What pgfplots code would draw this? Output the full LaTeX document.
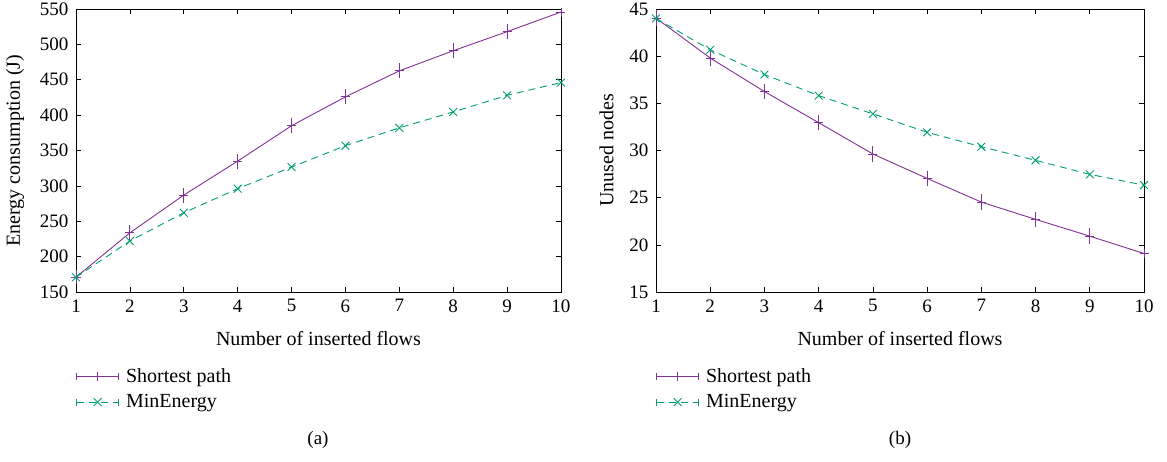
\documentclass[border=0pt]{standalone}
\usepackage{fontspec}
\setmainfont{Liberation Serif}
\usepackage{pgfplots}
\pgfplotsset{compat=1.18}
\definecolor{cpurple}{RGB}{128,50,150}
\definecolor{cgreen}{RGB}{0,158,115}
\pgfplotsset{
  gp/.style={
    scale only axis, width=485pt, height=283pt,
    xmin=1, xmax=10, xtick={1,...,10},
    tick align=inside, major tick length=5pt,
    axis line style={line width=0.9pt},
    tick style={black, line width=0.6pt},
    /pgf/number format/assume math mode=true,
    tick label style={font=\fontsize{19}{22}\selectfont},
    xticklabel style={yshift=-4pt},
    yticklabel style={xshift=-4pt},
    label style={font=\fontsize{20}{24}\selectfont},
    xlabel={Number of inserted flows},
    xlabel style={yshift=-12pt},
    ylabel style={yshift=9pt},
    legend style={draw=none, fill=none, at={(0,-0.255)}, anchor=north west,
      font=\fontsize{20}{24}\selectfont, row sep=7pt, inner xsep=0pt,
      /tikz/every odd column/.append style={column sep=5pt}},
    legend cell align=left,
    legend image code/.code={%
      \draw[mark repeat=2,mark phase=2,##1] plot coordinates {(0pt,0pt) (21pt,0pt) (42pt,0pt)};
      \draw[##1,solid,mark=none] (0pt,-3.5pt) -- (0pt,3.5pt) (42pt,-3.5pt) -- (42pt,3.5pt);
    },
    every axis plot/.append style={line width=0.9pt},
  },
  sp/.style={cpurple, solid, mark=+, mark size=4.5pt,
    error bars/.cd, y dir=both, y explicit, error bar style={solid, line width=0.8pt},
    error mark options={mark size=4pt, line width=0.8pt}},
  me/.style={cgreen, dashed, dash pattern=on 7pt off 5pt, mark=x, mark size=5.5pt, mark options={solid}},
}
\begin{document}
\begin{tikzpicture}
\path[use as bounding box] (0,0) rectangle (1167pt,461pt);
\begin{axis}[gp, at={(76pt,169pt)}, anchor=south west,
  ymin=150, ymax=550, ytick={150,200,...,550},
  ylabel={Energy consumption (J)}]
\addplot+[sp] coordinates {(1,171) +- (0,4) (2,233.6) +- (0,5) (3,287) +- (0,5) (4,335) +- (0,5) (5,385) +- (0,5) (6,425.8) +- (0,5) (7,462.6) +- (0,5) (8,491) +- (0,5) (9,518) +- (0,5) (10,545.7) +- (0,5)};
\addlegendentry{Shortest path}
\addplot+[me] coordinates {(1,171) (2,222) (3,262) (4,296) (5,326.6) (6,356.8) (7,382) (8,404.5) (9,428) (10,446)};
\addlegendentry{MinEnergy}
\end{axis}
\begin{axis}[gp, at={(656pt,169pt)}, anchor=south west, width=488pt,
  ymin=15, ymax=45, ytick={15,20,...,45},
  ylabel={Unused nodes}]
\addplot+[sp] coordinates {(1,44.04) +- (0,0.4) (2,39.8) +- (0,0.4) (3,36.25) +- (0,0.4) (4,32.95) +- (0,0.4) (5,29.63) +- (0,0.4) (6,27.04) +- (0,0.4) (7,24.53) +- (0,0.4) (8,22.7) +- (0,0.4) (9,20.92) +- (0,0.4) (10,19.08) +- (0,0.4)};
\addlegendentry{Shortest path}
\addplot+[me] coordinates {(1,44) (2,40.68) (3,38.05) (4,35.82) (5,33.88) (6,31.93) (7,30.4) (8,28.96) (9,27.47) (10,26.33)};
\addlegendentry{MinEnergy}
\end{axis}
\node[font=\fontsize{19}{22}\selectfont] at (318pt,21pt) {(a)};
\node[font=\fontsize{19}{22}\selectfont] at (900pt,21pt) {(b)};
\end{tikzpicture}
\end{document}
